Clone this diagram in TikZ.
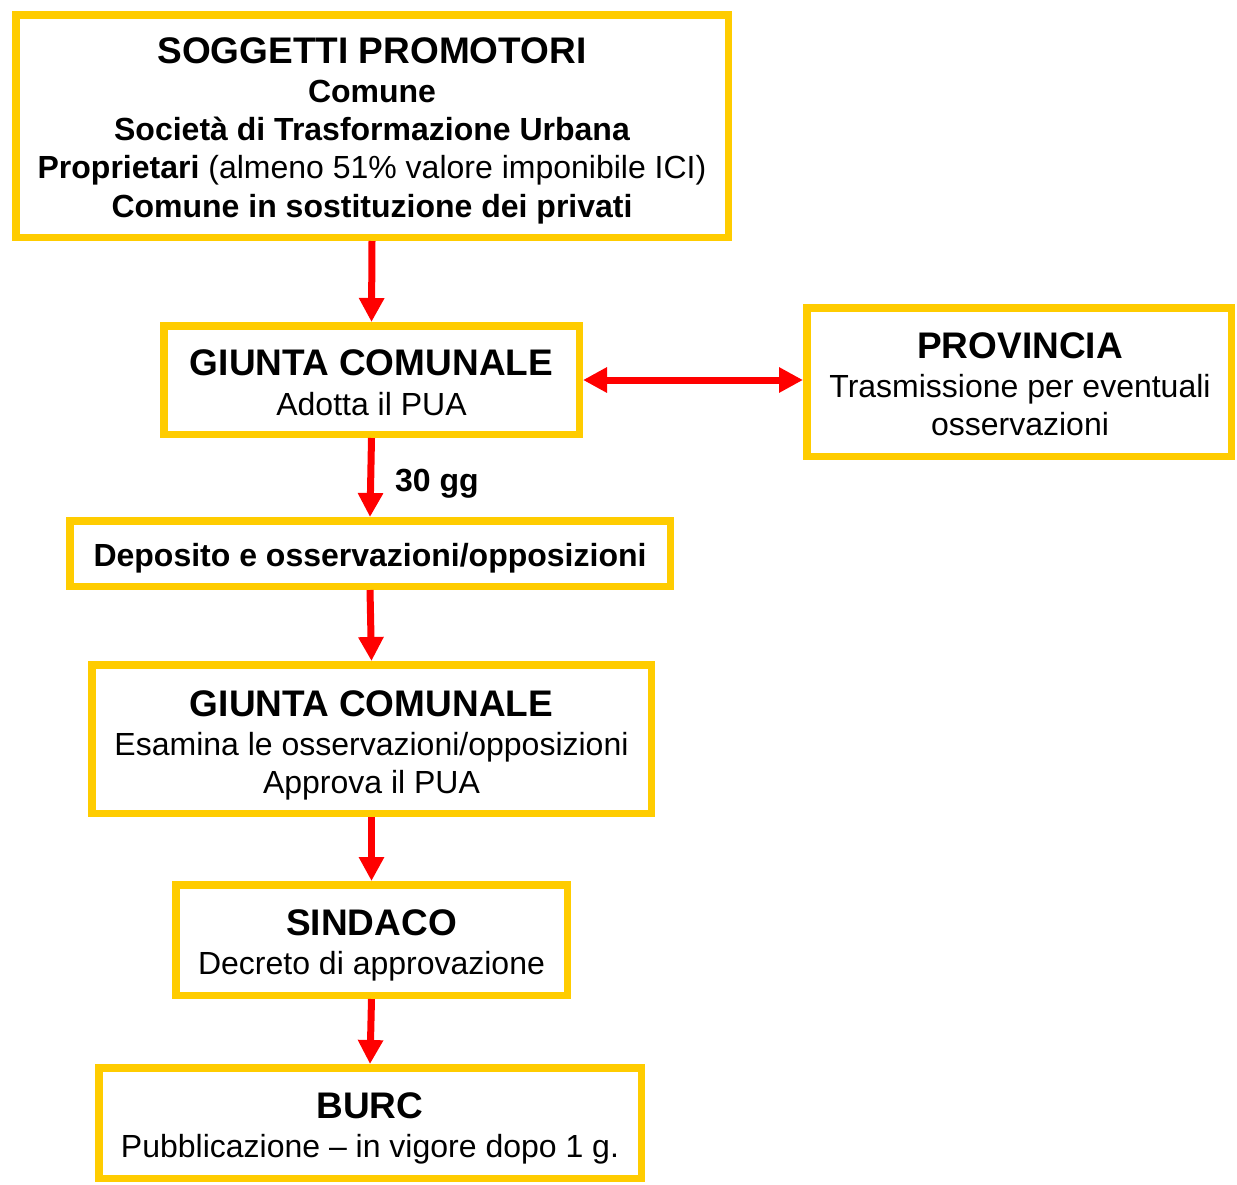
\documentclass[tikz,border=0pt]{standalone}
\usepackage{fontspec}
\setmainfont{Liberation Sans}
\usetikzlibrary{arrows.meta}
\definecolor{yel}{HTML}{FFCC00}
\definecolor{rd}{HTML}{FF0000}
\tikzset{
  boxnode/.style={draw=yel, line width=7.5pt, rectangle, inner sep=0pt, fill=none},
  txt/.style={anchor=base, inner sep=0pt, font=\fontsize{32}{38}\selectfont},
  ttl/.style={anchor=base, inner sep=0pt, font=\fontsize{37}{44}\selectfont\bfseries},
  btxt/.style={anchor=base, inner sep=0pt, font=\fontsize{32}{38}\selectfont\bfseries},
  arr/.style={draw=rd, line width=7pt, -{Triangle[length=24pt,width=24pt]}},
  darr/.style={draw=rd, line width=7pt, {Triangle[length=24pt,width=24pt]}-{Triangle[length=24pt,width=24pt]}}
}
\begin{document}
\begin{tikzpicture}[x=1pt,y=-1pt]
\useasboundingbox[fill=white] (0,0) rectangle (1237,1184);
% boxes
\node[boxnode, minimum width=712.5pt, minimum height=222.5pt] (b1) at (372,126) {};
\node[boxnode, minimum width=415.5pt, minimum height=108.5pt] (b2) at (371.5,380) {};
\node[boxnode, minimum width=424.5pt, minimum height=148.5pt] (prov) at (1019,382) {};
\node[boxnode, minimum width=600.5pt, minimum height=65.5pt] (dep) at (370,553.5) {};
\node[boxnode, minimum width=559.5pt, minimum height=148.5pt] (b5) at (371.5,739) {};
\node[boxnode, minimum width=391.5pt, minimum height=110.5pt] (sind) at (371.5,940) {};
\node[boxnode, minimum width=542.5pt, minimum height=110.5pt] (burc) at (370,1123) {};
% texts box 1
\node[ttl] (t1a) at (372,63) {SOGGETTI PROMOTORI};
\node[btxt] (t1b) at (372,102) {Comune};
\node[btxt] (t1c) at (372,140) {Società di Trasformazione Urbana};
\node[txt] (t1d) at (372,178) {\textbf{Proprietari} (almeno 51\% valore imponibile ICI)};
\node[btxt] (t1e) at (372,217) {Comune in sostituzione dei privati};
% box 2
\node[ttl] (t2a) at (371.5,375) {GIUNTA COMUNALE};
\node[txt] (t2b) at (371.5,415) {Adotta il PUA};
% provincia
\node[ttl] (t3a) at (1020,358) {PROVINCIA};
\node[txt] (t3b) at (1020,397) {Trasmissione per eventuali};
\node[txt] (t3c) at (1020,435) {osservazioni};
% deposito
\node[btxt] (t4a) at (370,566) {Deposito e osservazioni/opposizioni};
% giunta 2
\node[ttl] (t5a) at (371.5,716) {GIUNTA COMUNALE};
\node[txt] (t5b) at (371.5,755) {Esamina le osservazioni/opposizioni};
\node[txt] (t5c) at (371.5,793) {Approva il PUA};
% sindaco
\node[ttl] (t6a) at (371.5,935) {SINDACO};
\node[txt] (t6b) at (371.5,974) {Decreto di approvazione};
% burc
\node[ttl] (t7a) at (370,1118) {BURC};
\node[txt] (t7b) at (370,1157) {Pubblicazione -- in vigore dopo 1 g.};
% label
\node[btxt, anchor=base west] (gg) at (395,491) {30 gg};
% arrows
\draw[arr] (b1.south) -- (b2.north);
\draw[arr] (b2.south) -- (dep.north);
\draw[arr] (dep.south) -- (b5.north);
\draw[arr] (b5.south) -- (sind.north);
\draw[arr] (sind.south) -- (burc.north);
\draw[darr] (b2.east) -- (b2.east -| prov.west);
\end{tikzpicture}
\end{document}
